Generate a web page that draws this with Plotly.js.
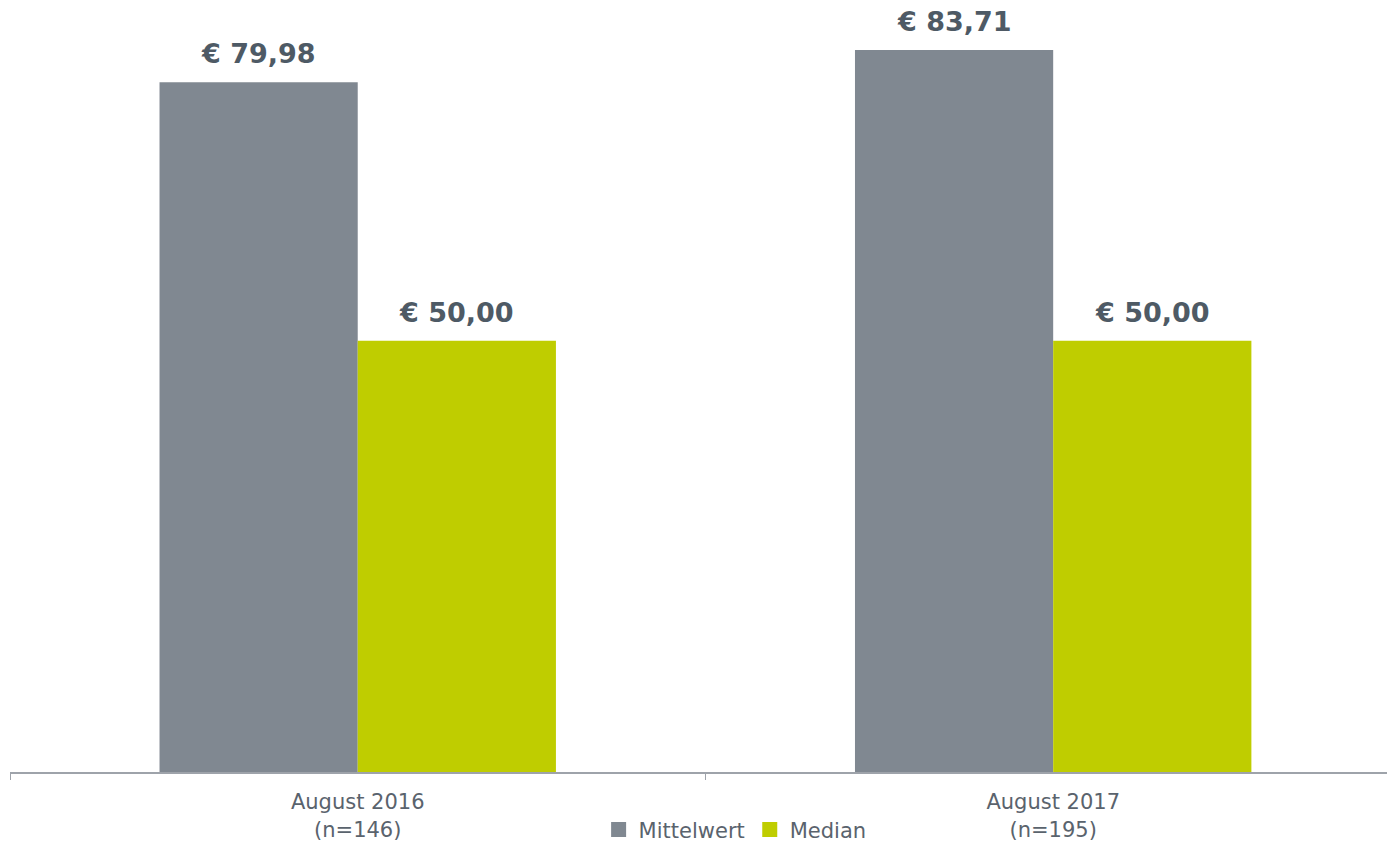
<!DOCTYPE html>
<html>
<head>
<meta charset="utf-8">
<script src="https://cdn.plot.ly/plotly-3.0.1.min.js"></script>
<style>html,body{margin:0;padding:0;background:#fff;}#chart{width:1387px;height:842px;}</style>
</head>
<body>
<div id="chart"></div>
<script>
const categories = ['August 2016<br>(n=146)', 'August 2017<br>(n=195)'];
const seriesNames = ['Mittelwert', 'Median'];
const mittelwert = [79.98, 83.71];
const median = [50.00, 50.00];
const colors = ['#808891', '#bfcd00'];

const fmt = v => '€ ' + v.toFixed(2).replace('.', ',');
const FONT = 'DejaVu Sans, Verdana, sans-serif';

const W = 1387, H = 842, ML = 10, MR = 0, MT = 0, MB = 70;
const xRange = [-0.5, 1.48];
const bargap = 0.43;
const pxPerCat = (W - ML - MR) / (xRange[1] - xRange[0]);
const barPx = pxPerCat * (1 - bargap) / 2;

const series = [mittelwert, median];
const traces = series.map((vals, i) => ({
  type: 'bar', name: seriesNames[i], x: categories, y: vals,
  marker: {color: colors[i]}, showlegend: false, hoverinfo: 'none'
}));
// legend-only markers
seriesNames.forEach((n, i) => traces.push({
  type: 'scatter', mode: 'markers', name: n, x: [null], y: [null],
  marker: {symbol: 'square', size: 15, color: colors[i]}, showlegend: true, hoverinfo: 'none'
}));

const annotations = [];
series.forEach((vals, i) => vals.forEach((v, j) => annotations.push({
  x: categories[j], y: v, xref: 'x', yref: 'y', text: '<b>' + fmt(v) + '</b>',
  showarrow: false, xanchor: 'center', yanchor: 'bottom',
  xshift: (i === 0 ? -1 : 1) * barPx / 2, yshift: 11,
  font: {family: FONT, size: 27, color: '#4e5a65'}
})));

const layout = {
  width: W, height: H,
  margin: {l: ML, r: MR, t: MT, b: MB},
  paper_bgcolor: '#ffffff', plot_bgcolor: '#ffffff',
  barmode: 'group', bargap: bargap, bargroupgap: 0,
  font: {family: FONT, color: '#5a636d'},
  xaxis: {
    type: 'category', range: xRange, showline: true, linecolor: '#9ea3aa', linewidth: 2,
    ticks: 'outside', tickson: 'boundaries', ticklen: 6, tickcolor: '#9ea3aa', tickwidth: 1,
    ticklabelstandoff: 10,
    tickfont: {size: 21, color: '#5a636d'}, showgrid: false, zeroline: false, fixedrange: true
  },
  yaxis: {range: [0, 89.51], visible: false, showgrid: false, zeroline: false, fixedrange: true},
  showlegend: true,
  annotations: annotations,
  legend: {orientation: 'h', xref: 'container', yref: 'container', x: 0.53, xanchor: 'center',
    y: 0.0145, yanchor: 'middle',
    font: {size: 21, color: '#5a636d'}, itemwidth: 30, traceorder: 'normal'}
};

Plotly.newPlot('chart', traces, layout, {displayModeBar: false, staticPlot: true});
</script>
</body>
</html>
